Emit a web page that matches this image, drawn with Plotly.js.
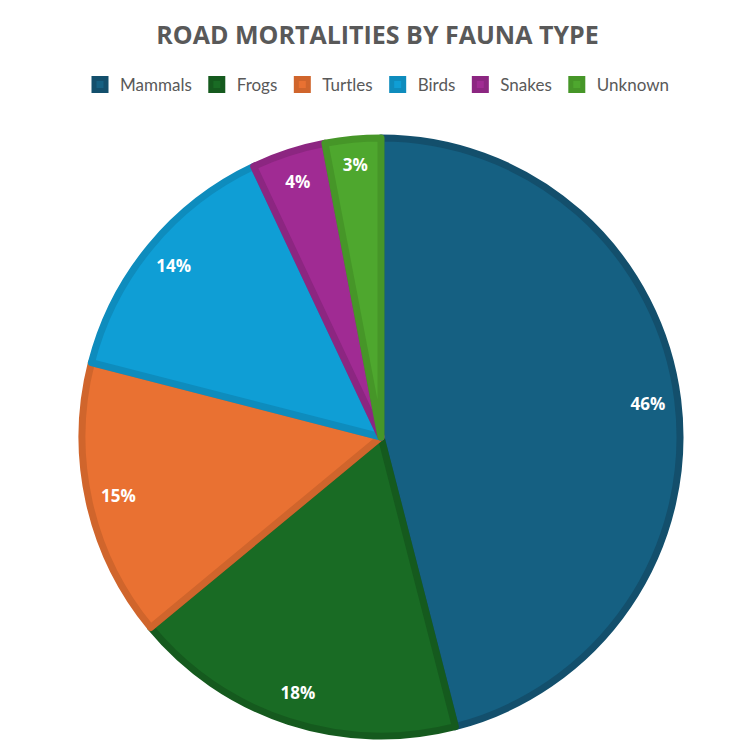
<!DOCTYPE html>
<html>
<head>
<meta charset="utf-8">
<script src="https://cdn.plot.ly/plotly-3.0.1.min.js"></script>
<style>html,body{margin:0;padding:0;background:#fff;}#chart{width:755px;height:755px;}</style>
</head>
<body>
<div id="chart"></div>
<script>
const categories = ["Mammals", "Frogs", "Turtles", "Birds", "Snakes", "Unknown"];
const values = [46, 18, 15, 14, 4, 3];
const fillColors = ["#156082", "#196B24", "#E97132", "#0F9ED5", "#A02B93", "#4EA72E"];
const borderColors = ["#134F6C", "#155A1E", "#D0652C", "#0E8CBD", "#8C2681", "#469628"];
const titleText = "ROAD MORTALITIES BY FAUNA TYPE";

const font = "'Open Sans', 'DejaVu Sans', sans-serif";
const legendFont = "Lato, 'Open Sans', sans-serif";
const domain = {x: [82/755, 680/755], y: [19/755, 617/755]};

const pieMain = {
  type: "pie",
  labels: categories,
  values: values,
  sort: false,
  direction: "clockwise",
  rotation: 0,
  domain: domain,
  marker: {colors: fillColors, line: {color: borderColors, width: 7}},
  textinfo: "none",
  hoverinfo: "label+percent",
  showlegend: true
};

const pieLabels = {
  type: "pie",
  labels: categories,
  values: values,
  sort: false,
  direction: "clockwise",
  rotation: 0,
  hole: 0.8,
  domain: domain,
  marker: {colors: categories.map(() => "rgba(0,0,0,0)"), line: {width: 0}},
  textinfo: "percent",
  texttemplate: "<b>%{percent:.0%}</b>",
  textposition: "inside",
  insidetextorientation: "horizontal",
  textfont: {color: "#FFFFFF", size: 17, family: font},
  hoverinfo: "skip",
  showlegend: false
};

const layout = {
  width: 755,
  height: 755,
  margin: {l: 0, r: 0, t: 0, b: 0, autoexpand: false},
  paper_bgcolor: "#FFFFFF",
  title: {
    text: "<b>" + titleText + "</b>",
    font: {family: font, size: 25, color: "#595959"},
    x: 0.5, xanchor: "center",
    y: 1 - 35/755, yanchor: "middle", yref: "container"
  },
  legend: {
    orientation: "h",
    x: 0.5, xanchor: "center",
    y: 1 - 85/755, yanchor: "middle",
    font: {family: legendFont, size: 17, color: "#595959"},
    itemwidth: 30,
    traceorder: "normal"
  },
  showlegend: true
};

Plotly.newPlot("chart", [pieMain, pieLabels], layout, {displayModeBar: false, staticPlot: true});
</script>
</body>
</html>
